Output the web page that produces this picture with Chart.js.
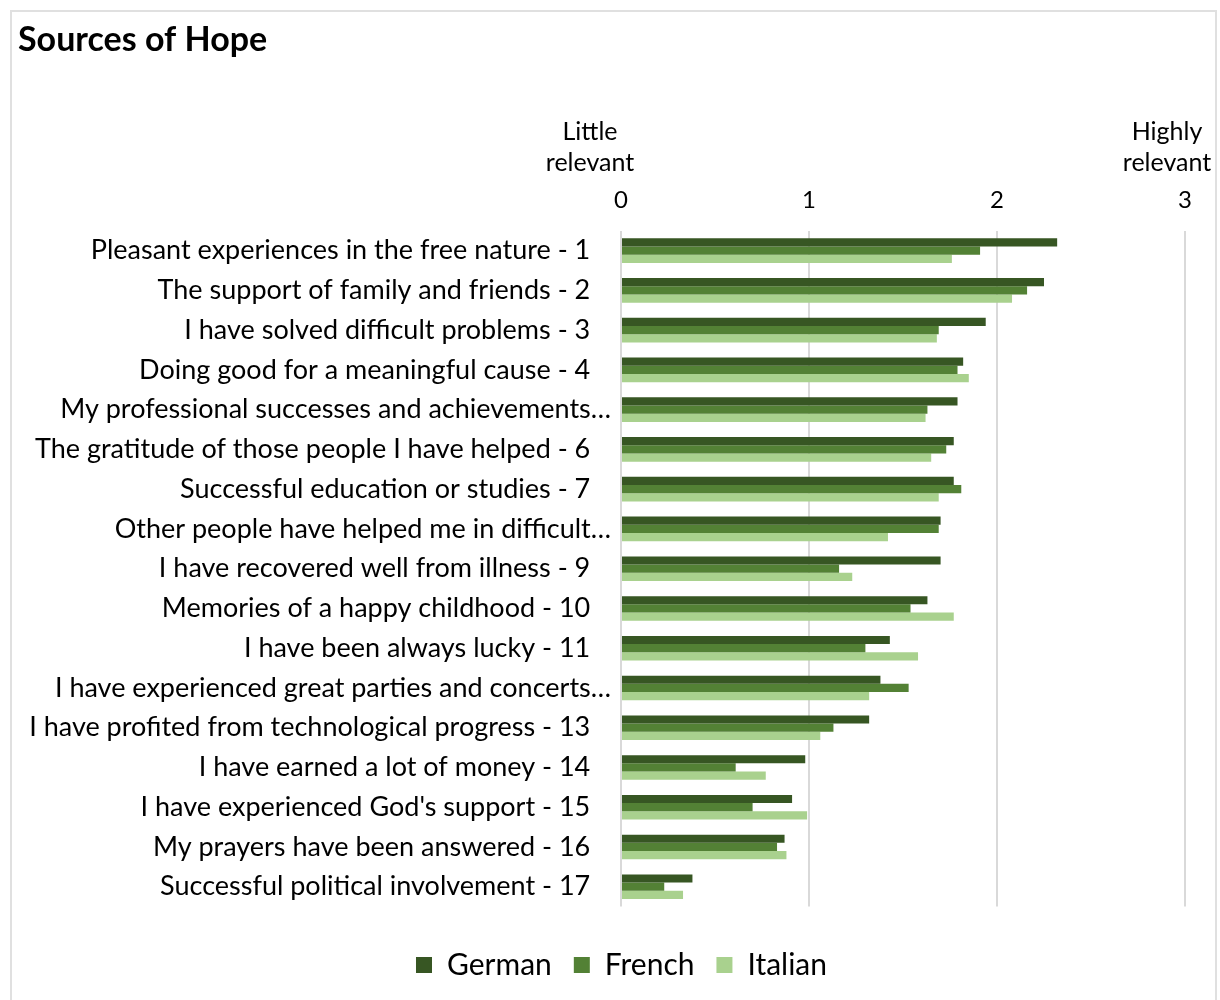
<!DOCTYPE html>
<html>
<head>
<meta charset="utf-8">
<title>Sources of Hope</title>
<script src="https://cdn.jsdelivr.net/npm/chart.js@4.4.1/dist/chart.umd.min.js"></script>
<style>
    body { margin: 0; background: #fff; }
    #wrap { position: relative; width: 1220px; height: 1000px; }
    #frame {
        position: absolute; left: 10px; top: 10px; width: 1207px; height: 1000px;
        border: 2px solid #e0e0e0; border-bottom: none; box-sizing: border-box;
    }
</style>
</head>
<body>
<div id="wrap">
    <div id="frame"></div>
    <canvas id="hopeChart"></canvas>
</div>
<script>
// Mean relevance (0 = little, 3 = high) per source, by language region
var sources = [
    'Pleasant experiences in the free nature - 1',
    'The support of family and friends - 2',
    'I have solved difficult problems - 3',
    'Doing good for a meaningful cause - 4',
    'My professional successes and achievements\u2026',
    'The gratitude of those people I have helped - 6',
    'Successful education or studies - 7',
    'Other people have helped me in difficult\u2026',
    'I have recovered well from illness - 9',
    'Memories of a happy childhood - 10',
    'I have been always lucky - 11',
    'I have experienced great parties and concerts\u2026',
    'I have profited from technological progress - 13',
    'I have earned a lot of money - 14',
    "I have experienced God's support - 15",
    'My prayers have been answered - 16',
    'Successful political involvement - 17'
];
var german  = [2.32, 2.25, 1.94, 1.82, 1.79, 1.77, 1.77, 1.70, 1.70, 1.63, 1.43, 1.38, 1.32, 0.98, 0.91, 0.87, 0.38];
var french  = [1.91, 2.16, 1.69, 1.79, 1.63, 1.73, 1.81, 1.69, 1.16, 1.54, 1.30, 1.53, 1.13, 0.61, 0.70, 0.83, 0.23];
var italian = [1.76, 2.08, 1.68, 1.85, 1.62, 1.65, 1.69, 1.42, 1.23, 1.77, 1.58, 1.32, 1.06, 0.77, 0.99, 0.88, 0.33];
var scaleTicks = [0, 1, 2, 3];
var scaleEnds = [['Little', 'relevant'], ['Highly', 'relevant']];

document.addEventListener('DOMContentLoaded', function() {
    var font = 'Lato, "Open Sans", sans-serif';

    // "Little relevant" / "Highly relevant" above both ends of the scale
    var scaleEndLabels = {
        id: 'scaleEndLabels',
        afterDraw: function(chart) {
            var x = chart.scales.x;
            var c = chart.ctx;
            var spots = [
                x.getPixelForValue(scaleTicks[0]) - 31,
                x.getPixelForValue(scaleTicks[scaleTicks.length - 1]) - 18
            ];
            c.save();
            c.font = '25px ' + font;
            c.fillStyle = '#000';
            c.textAlign = 'center';
            c.textBaseline = 'middle';
            scaleEnds.forEach(function(lines, i) {
                lines.forEach(function(line, j) {
                    c.fillText(line, spots[i], chart.chartArea.top - 99 + j * 31);
                });
            });
            c.restore();
        }
    };

    // centre the legend on the whole frame rather than between the paddings
    var legendShift = {
        id: 'legendShift',
        afterLayout: function(chart) {
            chart.legend.left += 20;
            chart.legend.right += 20;
        }
    };

    var ctx = document.getElementById('hopeChart').getContext('2d');
    var hopeChart = new Chart(ctx, {
        type: 'bar',
        data: {
            labels: sources,
            datasets: [{
                label: 'German',
                data: german,
                backgroundColor: '#375623'
            }, {
                label: 'French',
                data: french,
                backgroundColor: '#538135'
            }, {
                label: 'Italian',
                data: italian,
                backgroundColor: '#a9d18e'
            }]
        },
        options: {
            indexAxis: 'y',
            responsive: true,
            maintainAspectRatio: false,
            animation: false,
            categoryPercentage: 0.62,
            barPercentage: 1.0,
            layout: {
                padding: { top: 10, left: 18, right: 35, bottom: 10 }
            },
            plugins: {
                title: {
                    display: true,
                    text: 'Sources of Hope',
                    align: 'start',
                    color: '#000',
                    font: { family: font, size: 34, weight: 'bold' },
                    padding: { top: 10, bottom: 10 }
                },
                legend: {
                    position: 'bottom',
                    // blank title only adds some room above the legend row
                    title: {
                        display: true,
                        text: ' ',
                        font: { size: 2 },
                        padding: { top: 19, bottom: 0 }
                    },
                    labels: {
                        color: '#000',
                        font: { family: font, size: 30 },
                        boxWidth: 16,
                        boxHeight: 16,
                        padding: 22
                    }
                },
                tooltip: { enabled: false }
            },
            scales: {
                x: {
                    position: 'top',
                    min: 0,
                    max: 3,
                    afterBuildTicks: function(scale) {
                        scale.ticks = scaleTicks.map(function(v) { return { value: v }; });
                    },
                    afterFit: function(scale) {
                        scale.height = 160;
                    },
                    ticks: {
                        color: '#000',
                        font: { family: font, size: 24 },
                        padding: 16
                    },
                    grid: {
                        color: '#d9d9d9',
                        lineWidth: 2,
                        drawTicks: false
                    },
                    border: { display: false }
                },
                y: {
                    afterFit: function(scale) {
                        scale.width = 603;
                    },
                    ticks: {
                        color: '#000',
                        font: { family: font, size: 27 },
                        padding: 2,
                        callback: function(value) {
                            var text = this.getLabelForValue(value);
                            // full labels sit a little further from the axis than clipped ones
                            return text.slice(-1) === '\u2026' ? text : text + '   ';
                        }
                    },
                    grid: { display: false },
                    border: { display: false }
                }
            }
        },
        plugins: [scaleEndLabels, legendShift]
    });
});
</script>
</body>
</html>
